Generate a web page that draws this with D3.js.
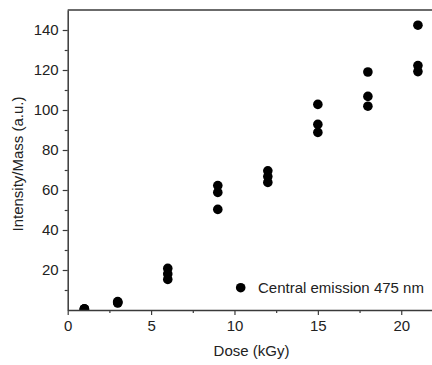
<!DOCTYPE html>
<html>
<head>
<meta charset="utf-8">
<script src="https://cdn.jsdelivr.net/npm/d3@7"></script>
<style>
  body { margin: 0; background: #fff; }
  svg { display: block; font-family: "Liberation Sans", Arial, sans-serif; }
</style>
</head>
<body>
<svg width="432" height="365"></svg>
<script>
"use strict";

// dose values (kGy) and the three measured intensity/mass readings at each
var doses = [1, 1, 1, 3, 3, 3, 6, 6, 6, 9, 9, 9, 12, 12, 12, 15, 15, 15, 18, 18, 18, 21, 21, 21];
var intensities = [0.4, 0.6, 0.5, 3.5, 4.2, 3.8, 20.8, 18, 15.3, 62.2, 58.8, 50.3, 69.6, 66.7, 63.8,
  102.8, 92.8, 88.8, 119, 106.8, 101.9, 142.4, 122.2, 119.2];
var xTicks = [0, 5, 10, 15, 20];
var yTicks = [20, 40, 60, 80, 100, 120, 140];
var seriesName = "Central emission 475 nm";

var svg = d3.select("svg");
var x = d3.scaleLinear().domain([0, 22]).range([67.7, 434.6]);
var y = d3.scaleLinear().domain([0, 150]).range([310, 10]);
var axisColor = "#3a3a3a";
var fontSize = 15;

var points = doses.map(function (d, i) { return { dose: d, value: intensities[i] }; });

svg.append("defs").append("clipPath").attr("id", "plot-clip")
  .append("rect")
  .attr("x", x(0)).attr("y", y(150))
  .attr("width", x(22) - x(0)).attr("height", y(0) - y(150));

// points
svg.append("g")
  .attr("clip-path", "url(#plot-clip)")
  .selectAll("circle")
  .data(points)
  .enter().append("circle")
  .attr("cx", function (d) { return x(d.dose); })
  .attr("cy", function (d) { return y(d.value); })
  .attr("r", 4.8)
  .attr("fill", "#000");

// minor ticks
var xAxisMinor = d3.axisBottom(x).tickValues(d3.range(2.5, 22, 5)).tickSize(3).tickFormat("");
var yAxisMinor = d3.axisLeft(y).tickValues(d3.range(10, 150, 20)).tickSize(3).tickFormat("");

svg.append("g")
  .attr("transform", "translate(0," + y(0) + ")")
  .call(xAxisMinor)
  .call(function (g) { g.select(".domain").remove(); g.selectAll("line").attr("stroke", axisColor).attr("stroke-width", 1.2); });
svg.append("g")
  .attr("transform", "translate(" + x(0) + ",0)")
  .call(yAxisMinor)
  .call(function (g) { g.select(".domain").remove(); g.selectAll("line").attr("stroke", axisColor).attr("stroke-width", 1.2); });

var xAxis = d3.axisBottom(x).tickValues(xTicks).tickSize(5).tickPadding(5).tickSizeOuter(0);
var yAxis = d3.axisLeft(y).tickValues(yTicks).tickSize(5).tickPadding(4).tickSizeOuter(0);

function styleAxis(g) {
  g.select(".domain").attr("stroke", axisColor).attr("stroke-width", 1.5);
  g.selectAll("line").attr("stroke", axisColor).attr("stroke-width", 1.2);
  g.selectAll("text").attr("font-size", fontSize).attr("fill", "#222")
    .attr("font-family", "Liberation Sans, Arial, sans-serif");
}

svg.append("g")
  .attr("transform", "translate(0," + y(0) + ")")
  .call(xAxis)
  .call(styleAxis);
svg.append("g")
  .attr("transform", "translate(" + x(0) + ",0)")
  .call(yAxis)
  .call(styleAxis);

// top border
svg.append("line")
  .attr("x1", x(0)).attr("x2", x(22))
  .attr("y1", y(150)).attr("y2", y(150))
  .attr("stroke", axisColor).attr("stroke-width", 1.5);

// legend
svg.append("circle").attr("cx", 240.7).attr("cy", 287.7).attr("r", 4.8).attr("fill", "#000");
svg.append("text")
  .attr("x", 258).attr("y", 293)
  .attr("font-size", fontSize).attr("fill", "#222")
  .text(seriesName);

// axis titles
svg.append("text")
  .attr("x", 251.5).attr("y", 356)
  .attr("text-anchor", "middle")
  .attr("font-size", fontSize).attr("fill", "#222")
  .text("Dose (kGy)");
svg.append("text")
  .attr("transform", "translate(23,164) rotate(-90)")
  .attr("text-anchor", "middle")
  .attr("font-size", fontSize).attr("fill", "#222")
  .text("Intensity/Mass (a.u.)");
</script>
</body>
</html>
